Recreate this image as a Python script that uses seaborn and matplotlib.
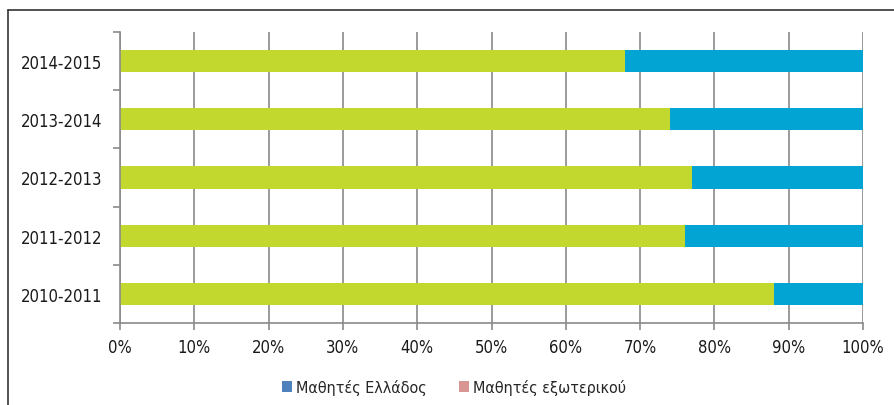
import matplotlib
matplotlib.use("Agg")
import matplotlib.pyplot as plt
import seaborn as sns
import pandas as pd
from matplotlib.patches import Patch
from matplotlib.lines import Line2D

years = ["2014-2015", "2013-2014", "2012-2013", "2011-2012", "2010-2011"]
greek_students = [68, 74, 77, 76, 88]
total = [100, 100, 100, 100, 100]
x_ticks = [0, 10, 20, 30, 40, 50, 60, 70, 80, 90, 100]
legend_labels = ["Μαθητές Ελλάδος", "Μαθητές εξωτερικού"]

sns.set_theme(style="white")
plt.rcParams['font.family'] = ['DejaVu Sans']
plt.rcParams['font.stretch'] = 'condensed'

df = pd.DataFrame({"year": years, "greek": greek_students, "total": total})

fig = plt.figure(figsize=(8.94, 4.06), dpi=100)
ax = fig.add_axes([120/894, (406-324)/406, 743/894, 291/406])

sns.barplot(data=df, x="total", y="year", orient="h", color="#02A4D3",
            width=0.38, saturation=1, ax=ax, order=years, linewidth=0)
sns.barplot(data=df, x="greek", y="year", orient="h", color="#C3D82E",
            width=0.38, saturation=1, ax=ax, order=years, linewidth=0)

ax.set_xlim(0, 100)
ax.set_ylim(4.5, -0.5)
ax.set_xticks(x_ticks)
ax.set_xticklabels([f"{v}%" for v in x_ticks], fontsize=12, color="#1a1a1a")
ax.set_yticks(range(len(years)))
ax.set_yticklabels(years, fontsize=12, color="#1a1a1a")
ax.set_xlabel("")
ax.set_ylabel("")

ax.xaxis.grid(True, color="#8a8a8a", linewidth=1.2)
ax.set_axisbelow(True)
for s in ["top", "right"]:
    ax.spines[s].set_visible(False)
for s in ["left", "bottom"]:
    ax.spines[s].set_color("#8a8a8a")
    ax.spines[s].set_linewidth(1.2)

ax.tick_params(axis="x", which="major", length=5, width=1.2, color="#8a8a8a",
               direction="out", bottom=True, pad=6)
ax.tick_params(axis="y", which="major", length=0, pad=13, left=False)
ax.set_yticks([-0.5, 0.5, 1.5, 2.5, 3.5, 4.5], minor=True)
ax.tick_params(axis="y", which="minor", length=5, width=1.2, color="#8a8a8a",
               direction="out", left=True)

handles = [Patch(facecolor="#4F81BD", edgecolor="none"),
           Patch(facecolor="#D99694", edgecolor="none")]
fig.legend(handles, legend_labels, loc="center", bbox_to_anchor=(454/894, 1 - 388/406),
           ncol=2, frameon=False, fontsize=11.5, handlelength=0.65, handleheight=0.65,
           handletextpad=0.25, columnspacing=2.0)

# outer frame lines
fig.add_artist(Line2D([8/894, 1.0], [1 - 11/406, 1 - 11/406], transform=fig.transFigure,
                      color="#333333", linewidth=1.2))
fig.add_artist(Line2D([8/894, 8/894], [0, 1 - 11/406], transform=fig.transFigure,
                      color="#333333", linewidth=1.2))

fig.savefig("out.png", dpi=100)
